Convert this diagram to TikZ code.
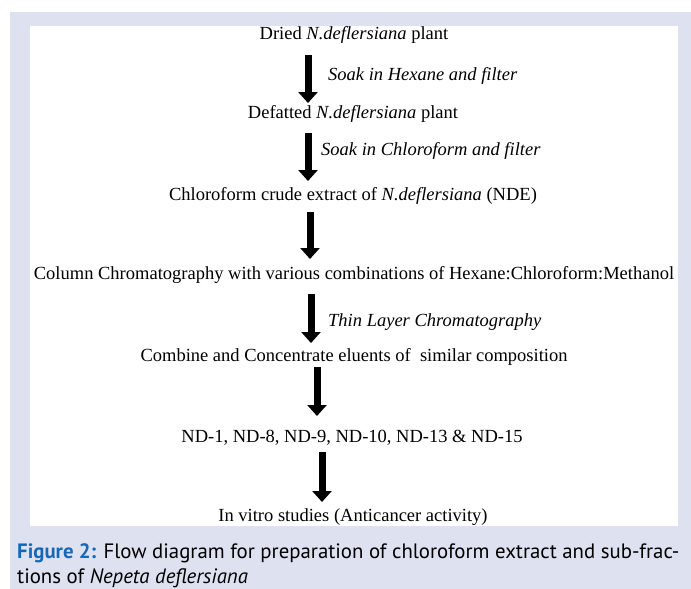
\documentclass[tikz,border=0pt]{standalone}
\usepackage{fontspec}
\setmainfont{Liberation Serif}
\newfontfamily\capfont{PT Sans}
\usetikzlibrary{arrows.meta}
\definecolor{panelbg}{RGB}{222,226,240}
\definecolor{capblue}{RGB}{22,104,182}
\tikzset{
  stagetext/.style={font=\fontsize{18.5}{20}\selectfont, inner sep=0pt, anchor=base},
  sidetext/.style={font=\fontsize{18.5}{20}\selectfont\itshape, inner sep=0pt, anchor=base west},
  flow/.style={line width=7pt, -{Triangle[length=11pt 0 1, width=19pt 0 1]}},
  captext/.style={font=\capfont\fontsize{20.8}{22}\selectfont, inner sep=0pt, anchor=base west}
}
\begin{document}
\begin{tikzpicture}[x=1pt,y=-1pt]
\useasboundingbox (0,0) rectangle (691,589);
\fill[white] (0,0) rectangle (691,589);
\fill[panelbg] (10,12) rectangle (691,589);
\fill[white] (30,26) rectangle (678,526);

\node[stagetext] (s1) at (354,39) {Dried \textit{N.deflersiana} plant};
\node[stagetext] (s2) at (353,118) {Defatted \textit{N.deflersiana} plant};
\node[stagetext] (s3) at (353,200) {Chloroform crude extract of \textit{N.deflersiana} (NDE)};
\node[stagetext] (s4) at (354,279) {Column Chromatography with various combinations of Hexane:Chloroform:Methanol};
\node[stagetext] (s5) at (354,361) {Combine and Concentrate eluents of \ similar composition};
\node[stagetext] (s6) at (352,442) {ND-1, ND-8, ND-9, ND-10, ND-13 \& ND-15};
\node[stagetext] (s7) at (353,521) {In vitro studies (Anticancer activity)};

\node[sidetext] (l1) at (328,80) {Soak in Hexane and filter};
\node[sidetext] (l2) at (321,155) {Soak in Chloroform and filter};
\node[sidetext] (l4) at (328,326) {Thin Layer Chromatography};

\coordinate (a1s) at (308,55);  \coordinate (a1e) at (308,103);
\coordinate (a2s) at (308,133); \coordinate (a2e) at (308,181);
\coordinate (a3s) at (310,212); \coordinate (a3e) at (310,259);
\coordinate (a4s) at (311,294); \coordinate (a4e) at (311,343);
\coordinate (a5s) at (317,367); \coordinate (a5e) at (317,416);
\coordinate (a6s) at (322,452); \coordinate (a6e) at (322,502);
\draw[flow] (a1s) -- (a1e);
\draw[flow] (a2s) -- (a2e);
\draw[flow] (a3s) -- (a3e);
\draw[flow] (a4s) -- (a4e);
\draw[flow] (a5s) -- (a5e);
\draw[flow] (a6s) -- (a6e);

\node[captext] (c1) at (17,558) {\textcolor{capblue}{\bfseries Figure 2:} Flow diagram for preparation of chloroform extract and sub-frac-};
\node[captext] (c2) at (17,583) {tions of \textit{Nepeta deflersiana}};
\end{tikzpicture}
\end{document}
